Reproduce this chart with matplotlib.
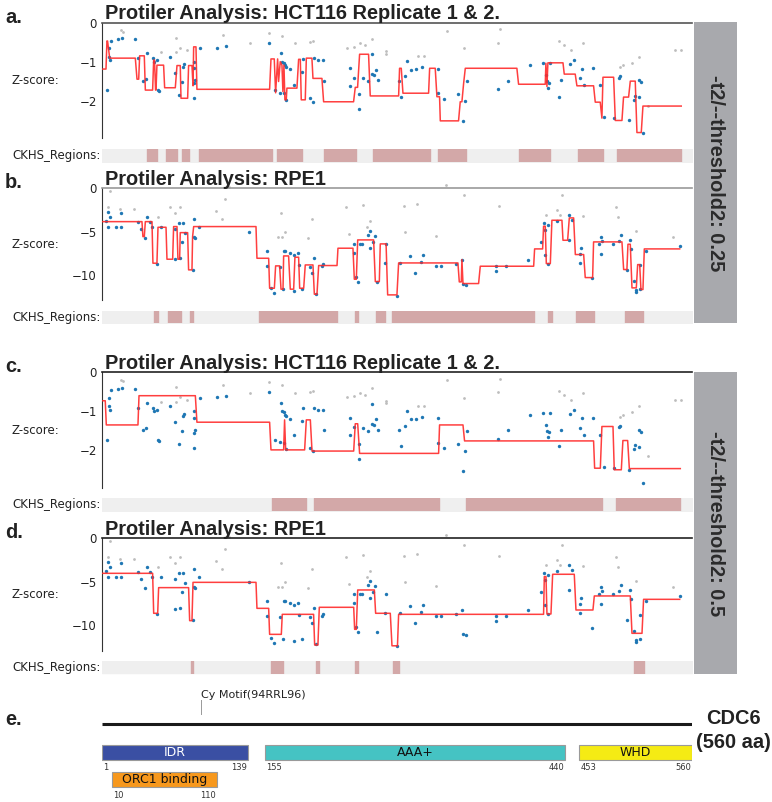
import matplotlib
matplotlib.use('Agg')
import matplotlib.pyplot as plt
from matplotlib.patches import Rectangle
import numpy as np

# ---- data (residue position, z-score) ----
hct_blue = [(5.4, -1.73), (7.0, -0.66), (7.6, -0.87), (7.9, -0.97), (9.5, -0.46), (15.5, -0.43),
            (19.6, -0.40), (32.3, -0.42), (34.8, -0.91), (39.2, -1.49), (42.4, -1.44), (43.3, -0.79),
            (49.0, -0.91), (50.3, -1.00), (52.8, -0.97), (53.8, -1.73), (54.7, -1.75), (65.5, -0.87),
            (69.9, -1.28), (74.0, -1.85), (76.5, -1.51), (77.5, -1.13), (78.7, -1.07), (87.6, -1.00),
            (88.2, -1.17), (89.2, -1.47), (88.2, -1.56), (87.6, -1.94), (93.3, -0.66), (109.7, -0.64),
            (118.5, -0.60), (159.0, -0.51), (170.7, -0.79), (171.3, -1.00), (172.9, -1.03), (174.5, -1.09),
            (175.4, -1.13), (179.2, -1.20), (164.7, -1.73), (169.1, -1.80), (173.5, -1.81), (175.4, -1.98),
            (182.4, -1.60), (190.3, -1.26), (191.2, -0.92), (198.2, -1.94), (200.4, -2.03), (202.0, -0.91),
            (205.1, -0.96), (209.9, -0.97), (211.5, -1.49), (236.1, -1.17), (235.5, -1.62), (239.9, -1.41),
            (244.0, -1.83), (244.0, -2.22), (248.1, -1.43), (252.8, -1.50), (256.6, -0.81), (256.6, -1.32),
            (260.7, -1.21), (258.9, -1.34), (262.3, -1.47), (281.9, -1.49), (284.4, -1.90), (287.6, -1.38),
            (289.8, -0.98), (293.6, -1.21), (298.3, -1.19), (304.3, -1.15), (319.2, -1.18), (319.5, -1.81),
            (324.5, -1.95), (338.1, -1.84), (342.9, -2.52), (345.1, -2.02), (346.7, -1.50), (376.0, -1.71),
            (385.2, -1.49), (406.1, -1.09), (418.7, -1.04), (421.2, -1.34), (422.2, -1.50), (423.1, -1.67),
            (424.1, -1.54), (425.0, -1.04), (433.9, -1.90), (436.1, -1.47), (444.6, -1.07), (447.8, -0.96),
            (454.1, -1.43), (455.7, -1.18), (457.9, -1.60), (466.1, -1.17), (472.4, -1.60), (476.2, -2.43),
            (485.7, -2.45), (490.4, -1.41), (492.0, -1.38), (499.9, -2.51), (504.7, -1.98), (505.9, -1.87),
            (509.4, -1.48), (511.6, -1.52), (509.4, -1.91), (513.5, -2.83)]
hct_gray = [(18.7, -0.19), (20.3, -0.23), (56.9, -0.76), (70.8, -0.38), (71.1, -0.76), (74.9, -0.64),
            (81.3, -0.70), (115.1, -0.32), (140.7, -0.53), (158.7, -0.26), (171.3, -0.33), (183.3, -0.53),
            (197.5, -0.50), (200.7, -0.47), (232.9, -0.64), (239.3, -0.62), (244.9, -0.53), (249.7, -0.57),
            (256.6, -0.41), (270.2, -0.73), (270.2, -0.80), (300.5, -0.86), (306.2, -0.86), (328.0, -0.21),
            (344.1, -0.66), (376.0, -0.51), (378.3, -0.17), (433.6, -0.47), (438.9, -0.57), (445.6, -0.70),
            (456.6, -0.53), (491.4, -1.15), (494.2, -1.09), (502.8, -1.03), (509.4, -0.87), (517.9, -2.14),
            (543.8, -0.70), (549.8, -0.70)]

rpe_blue = [(4.8, -3.73), (6.0, -2.69), (8.6, -3.27), (6.4, -4.5), (14.3, -4.5), (18.7, -4.5),
            (18.7, -2.88), (34.8, -3.85), (38.0, -4.73), (41.8, -5.77), (43.3, -3.35), (45.9, -3.85),
            (48.1, -4.5), (52.8, -8.73), (56.6, -4.5), (70.2, -4.73), (70.2, -8.15), (73.4, -4.04),
            (74.9, -8.08), (77.5, -4.04), (76.5, -6.23), (79.7, -5.19), (86.9, -9.42), (87.6, -3.58),
            (88.2, -5.58), (89.2, -5.77), (92.6, -4.5), (139.7, -5.08), (157.1, -7.19), (157.1, -8.92),
            (160.9, -11.54), (163.4, -12.04), (169.1, -9.12), (172.3, -11.65), (172.9, -7.19),
            (174.5, -7.19), (178.6, -7.42), (182.4, -7.69), (186.5, -7.5), (182.4, -11.81), (187.8, -8.85),
            (190.3, -11.65), (198.2, -9.04), (199.8, -9.81), (201.3, -8.08), (203.9, -12.23), (209.2, -8.96),
            (210.2, -8.73), (239.3, -7.5), (241.8, -10.19), (243.4, -10.77), (239.9, -6.42), (244.9, -6.42),
            (247.2, -6.42), (252.8, -5.38), (255.1, -4.92), (257.6, -6.15), (259.8, -5.5), (254.4, -6.92),
            (270.2, -6.42), (269.3, -8.58), (261.4, -10.77), (280.3, -12.42), (283.5, -8.62), (292.3, -7.81),
            (297.1, -9.73), (303.1, -8.5), (305.0, -7.65), (317.6, -9.0), (322.3, -9.0), (336.5, -8.77),
            (341.9, -8.31), (342.6, -11.0), (346.0, -11.19), (374.5, -9.0), (374.5, -9.54), (383.9, -9.0),
            (404.5, -8.31), (417.1, -6.19), (420.0, -3.96), (420.3, -4.77), (420.3, -7.73), (423.1, -4.19),
            (423.4, -8.69), (432.0, -3.81), (443.7, -3.12), (443.7, -6.0), (446.2, -3.69), (453.5, -7.62),
            (454.1, -8.62), (455.0, -6.85), (465.2, -10.31), (471.5, -6.46), (473.7, -5.62), (474.6, -6.12),
            (474.0, -7.54), (484.7, -6.38), (490.4, -6.12), (492.7, -5.42), (500.9, -6.0), (502.5, -7.04),
            (498.3, -9.38), (504.7, -10.73), (506.9, -11.77), (507.2, -12.0), (510.4, -8.88), (511.0, -11.65),
            (516.4, -7.27), (548.3, -6.69)]
rpe_gray = [(8.6, -0.27), (6.0, -2.19), (17.4, -2.35), (31.3, -2.35), (54.1, -3.27), (64.8, -2.12),
            (70.2, -2.81), (74.3, -2.12), (108.8, -2.58), (114.8, -3.58), (117.6, -1.27), (121.5, 0.1),
            (170.4, -2.88), (167.2, -5.58), (171.3, -5.58), (174.5, -5.0), (196.3, -5.77), (199.4, -3.58),
            (232.3, -2.12), (234.8, -5.27), (248.1, -1.96), (251.9, -4.42), (255.1, -3.73), (288.2, -5.04),
            (286.6, -2.08), (299.3, -1.85), (317.6, -5.54), (326.8, 0.35), (343.5, -0.81), (376.7, -2.08),
            (421.6, -3.04), (432.0, -2.54), (434.5, -3.04), (437.0, -0.81), (456.3, -3.19), (488.2, -2.15),
            (489.5, -3.31), (507.2, -4.92), (542.0, -5.62)]

# ---- segmentation (start residue, end residue, z) ----
seg_a = [(1.0, 4.5, -1.19), (5.4, 6.0, -0.47), (8.0, 32.3, -0.91), (33.9, 35.5, -1.45), (36.4, 40.8, -0.85),
         (41.8, 48.7, -1.73), (49.7, 50.5, -0.96), (51.5, 51.9, -1.73), (52.8, 59.1, -1.09),
         (60.1, 70.2, -1.67), (71.8, 74.9, -1.10), (75.6, 81.9, -1.94), (82.8, 86.0, -1.10),
         (87.0, 87.0, -1.62), (87.6, 89.8, -0.62), (90.7, 159.6, -1.71), (160.9, 164.0, -0.93),
         (165.3, 165.3, -1.80), (167.2, 167.2, -0.93), (168.1, 168.1, -1.51), (169.7, 169.7, -1.00),
         (171.3, 171.3, -1.09), (172.2, 172.2, -1.77), (173.2, 173.2, -1.09), (174.1, 175.4, -1.98),
         (176.0, 185.5, -1.68), (187.1, 188.7, -0.94), (189.6, 193.4, -1.98), (194.4, 199.7, -0.91),
         (200.7, 209.2, -1.43), (210.8, 239.2, -2.03), (240.8, 243.0, -1.66), (244.9, 253.4, -0.81),
         (255.0, 281.9, -1.88), (282.8, 284.4, -1.17), (286.0, 310.3, -1.81), (311.3, 316.6, -1.17),
         (318.2, 320.7, -1.90), (321.4, 338.7, -2.52), (340.3, 341.9, -2.03), (343.5, 343.5, -1.56),
         (345.1, 394.0, -1.17), (395.6, 420.9, -1.58), (421.5, 421.5, -1.04), (422.5, 422.5, -1.64),
         (423.4, 437.7, -1.03), (438.9, 449.3, -1.32), (450.9, 466.7, -1.62), (468.3, 473.0, -2.04),
         (474.6, 474.6, -2.45), (475.6, 485.7, -1.40), (487.3, 493.6, -2.51), (495.1, 499.9, -1.91),
         (501.5, 506.2, -1.50), (507.8, 511.9, -2.82), (513.5, 549.8, -2.14)]
seg_b = [(1.0, 38.6, -3.85), (39.5, 40.8, -5.58), (41.8, 48.1, -3.85), (49.0, 52.8, -8.65),
         (53.8, 61.4, -4.5), (62.3, 67.7, -8.19), (68.6, 71.8, -4.42), (72.7, 74.3, -8.19),
         (74.9, 81.9, -5.12), (82.8, 86.0, -9.42), (86.6, 86.6, -5.58), (87.6, 146.7, -4.42),
         (147.6, 158.7, -8.08), (159.6, 164.1, -11.54), (165.3, 169.1, -8.96), (170.4, 172.3, -11.65),
         (172.9, 177.6, -7.81), (179.2, 182.4, -11.65), (183.6, 187.1, -7.96), (188.1, 191.9, -11.54),
         (193.4, 200.7, -8.85), (202.0, 204.5, -12.23), (206.1, 223.5, -8.92), (224.4, 238.6, -6.92),
         (239.9, 241.8, -10.5), (243.1, 258.2, -5.96), (259.8, 263.6, -10.77), (264.5, 270.0, -6.42),
         (271.5, 280.3, -12.31), (281.9, 338.1, -8.62), (339.4, 341.3, -10.81), (341.9, 341.9, -8.23),
         (342.9, 357.7, -11.0), (359.3, 409.9, -9.0), (410.8, 418.4, -7.0), (419.3, 420.9, -4.38),
         (421.9, 425.7, -8.69), (427.2, 436.7, -3.69), (437.7, 442.1, -6.0), (443.7, 447.8, -3.42),
         (449.4, 457.3, -7.65), (458.8, 465.8, -10.31), (466.7, 493.6, -6.19), (495.2, 498.3, -9.38),
         (499.3, 501.5, -6.46), (503.1, 507.2, -11.5), (508.5, 510.4, -8.81), (511.6, 513.5, -11.69),
         (514.8, 548.3, -7.0)]
seg_c = [(1.0, 3.8, -0.73), (4.8, 34.8, -1.35), (35.8, 89.2, -0.60), (90.7, 159.6, -1.28),
         (160.9, 172.9, -1.99), (173.8, 173.8, -1.22), (174.8, 192.8, -1.99), (194.4, 198.2, -1.22),
         (199.8, 239.3, -2.02), (240.8, 243.1, -1.32), (244.9, 319.8, -2.08), (320.7, 342.9, -1.35),
         (344.4, 466.7, -1.76), (467.7, 473.1, -2.46), (474.6, 485.1, -1.39), (486.3, 493.0, -2.50),
         (494.5, 499.0, -1.75), (500.6, 548.9, -2.47)]
seg_d = [(1.0, 48.7, -4.04), (49.7, 53.5, -8.65), (54.4, 82.8, -5.69), (83.8, 86.0, -9.5),
         (87.0, 146.7, -5.08), (147.6, 158.7, -8.08), (159.6, 170.7, -11.08), (171.6, 201.3, -8.77),
         (202.3, 205.4, -12.31), (206.7, 239.3, -7.96), (240.2, 241.8, -10.5), (243.1, 258.9, -5.96),
         (260.1, 274.0, -8.65), (275.6, 280.8, -12.4), (281.9, 419.3, -8.77), (420.0, 421.6, -4.42),
         (422.5, 426.3, -8.73), (427.9, 448.4, -4.15), (450.0, 466.1, -8.27), (467.4, 501.5, -6.65),
         (503.1, 512.6, -10.96), (514.1, 548.3, -7.04)]

# ---- CKHS regions (start, end residue) ----
ckhs_a = [(43.3, 52.8), (61.4, 71.8), (76.5, 82.8), (92.3, 161.8), (166.6, 190.3), (211.5, 241.8),
          (257.6, 311.3), (319.2, 346.0), (396.3, 425.0), (451.9, 475.6), (488.9, 549.8)]
ckhs_b = [(50.3, 53.8), (63.3, 75.6), (83.8, 87.0), (149.2, 223.5), (240.8, 243.1), (260.7, 269.3),
          (275.6, 410.5), (423.4, 427.2), (450.0, 467.4), (496.1, 513.5)]
ckhs_c = [(161.8, 194.1), (201.3, 320.4), (345.7, 474.6), (487.6, 548.9)]
ckhs_d = [(85.0, 87.0), (161.2, 172.3), (203.9, 206.7), (240.8, 243.1), (276.2, 281.9), (504.7, 514.1)]

# ---- CDC6 domains ----
protein_len = 560
dom_names = ['IDR', 'AAA+', 'WHD']
dom_start = [1, 155, 453]
dom_end = [139, 440, 560]
orc1_name = 'ORC1 binding'
orc1_start, orc1_end = 10, 110
cy_pos = 95
cy_label = 'Cy Motif(94RRL96)'

titles = ['Protiler Analysis: HCT116 Replicate 1 & 2.', 'Protiler Analysis: RPE1',
          'Protiler Analysis: HCT116 Replicate 1 & 2.', 'Protiler Analysis: RPE1']
thresholds = ['-t2/--threshold2: 0.25', '-t2/--threshold2: 0.5']

# ---- layout helpers (pixels) ----
W, H = 772, 802
fig = plt.figure(figsize=(W / 100, H / 100), dpi=100)
X0, X1 = 102.3, 692
XLIM = (1, protein_len)
BOLD = 'Liberation Sans'


def rect(left, top, right, bottom):
    return [left / W, 1 - bottom / H, (right - left) / W, (bottom - top) / H]


def step_xy(segs):
    xs, ys = [], []
    for s, e, z in segs:
        xs += [s, e]
        ys += [z, z]
    return xs, ys


def panel(letter, title, top, bottom, zmin, ticks, blue, gray, segs, ckhs, bar_top, topcol):
    ax = fig.add_axes(rect(X0, top, X1, bottom))
    ax.set_xlim(XLIM)
    ax.set_ylim(zmin, 0)
    gx, gy = zip(*gray)
    bx, by = zip(*blue)
    ax.scatter(gx, gy, s=4, color='#bdbdbd', lw=0, clip_on=False, zorder=2)
    ax.scatter(bx, by, s=6, color='#1f77b4', lw=0, clip_on=False, zorder=3)
    sx, sy = step_xy(segs)
    ax.plot(sx, sy, color='#ff2a2a', lw=1.1, alpha=0.9, zorder=4)
    for side in ['right', 'bottom']:
        ax.spines[side].set_visible(False)
    ax.spines['left'].set_color('#333333')
    ax.spines['top'].set_color(topcol)
    ax.spines['top'].set_linewidth(1.2)
    ax.set_xticks([])
    ax.set_yticks(ticks)
    ax.tick_params(axis='y', length=0, pad=4, labelsize=8.5, colors='#222222')
    fig.text(5 / W, 1 - top / H, letter, fontsize=14.4, fontweight='bold', family=BOLD,
             va='baseline', color='#222222')
    fig.text(105 / W, 1 - (top - 3.5) / H, title, fontsize=14.4, fontweight='bold', family=BOLD,
             va='baseline', color='#222222')
    fig.text(12 / W, 1 - (top + bottom) / 2 / H, 'Z-score:', fontsize=8.5, va='center', color='#222222')

    bx_ax = fig.add_axes(rect(X0, bar_top, X1, bar_top + 12.5))
    bx_ax.set_xlim(XLIM)
    bx_ax.set_ylim(0, 1)
    bx_ax.axis('off')
    bx_ax.broken_barh([(XLIM[0], XLIM[1] - XLIM[0])], (0, 1), color='#efefef')
    bx_ax.broken_barh([(s, e - s) for s, e in ckhs], (0, 1), color='#d3a8a8')
    fig.text(12 / W, 1 - (bar_top + 6.5) / H, 'CKHS_Regions:', fontsize=8.5, va='center', color='#222222')


panel('a.', titles[0], 22.7, 138, -2.96, [0, -1, -2], hct_blue, hct_gray, seg_a, ckhs_a, 149, '#555555')
panel('b.', titles[1], 188.3, 300, -12.9, [0, -5, -10], rpe_blue, rpe_gray, seg_b, ckhs_b, 311, '#999999')
panel('c.', titles[2], 372.3, 487.7, -2.96, [0, -1, -2], hct_blue, hct_gray, seg_c, ckhs_c, 498.3, '#222222')
panel('d.', titles[3], 538.3, 651, -13.0, [0, -5, -10], rpe_blue, rpe_gray, seg_d, ckhs_d, 661, '#222222')

# threshold side boxes
for (top, bottom), label in zip([(22.3, 323.3), (372.3, 674)], thresholds):
    fig.patches.append(Rectangle((694 / W, 1 - bottom / H), 43.3 / W, (bottom - top) / H,
                                 transform=fig.transFigure, color='#a8a9ad', lw=0))
    fig.text(715.5 / W, 1 - (top + bottom) / 2 / H, label, rotation=270, fontsize=14.4,
             fontweight='bold', family=BOLD, ha='center', va='center', color='#2b2b2b')

# ---- panel e: domain map ----
axe = fig.add_axes(rect(X0, 680, X1, 802))
axe.set_xlim(XLIM)
axe.set_ylim(802, 680)
axe.axis('off')
axe.plot([XLIM[0], protein_len], [724, 724], color='#1a1a1a', lw=2.2, solid_capstyle='butt')
axe.plot([cy_pos, cy_pos], [700, 714], color='#999999', lw=0.7)
axe.text(cy_pos, 698, cy_label, fontsize=8, va='baseline', ha='left', color='#222222')

dom_colors = ['#3a4fa3', '#45c3c3', '#f5eb14']
dom_text = ['white', '#111111', '#111111']
for name, s, e, c, tc in zip(dom_names, dom_start, dom_end, dom_colors, dom_text):
    axe.add_patch(Rectangle((s, 745), e - s, 15, facecolor=c, edgecolor='#9a9a9a', lw=0.8))
    axe.text((s + e) / 2, 752.5, name, fontsize=9, ha='center', va='center', color=tc)
    axe.text(s + 1, 770, str(s), fontsize=6, ha='left', va='baseline', color='#333333')
    axe.text(e - 1, 770, str(e), fontsize=6, ha='right', va='baseline', color='#333333')
axe.add_patch(Rectangle((orc1_start, 772.3), orc1_end - orc1_start, 15, facecolor='#f7981d',
                        edgecolor='#9a9a9a', lw=0.8))
axe.text((orc1_start + orc1_end) / 2, 779.8, orc1_name, fontsize=9, ha='center', va='center', color='#111111')
axe.text(orc1_start + 1, 798, str(orc1_start), fontsize=6, ha='left', va='baseline', color='#333333')
axe.text(orc1_end - 1, 798, str(orc1_end), fontsize=6, ha='right', va='baseline', color='#333333')

fig.text(5 / W, 1 - 725 / H, 'e.', fontsize=14.4, fontweight='bold', family=BOLD, va='baseline', color='#222222')
fig.text(733 / W, 1 - 724.3 / H, 'CDC6', fontsize=14.4, fontweight='bold', family=BOLD,
         ha='center', va='baseline', color='#222222')
fig.text(733 / W, 1 - 748 / H, '(%d aa)' % protein_len, fontsize=14.4, fontweight='bold', family=BOLD,
         ha='center', va='baseline', color='#222222')

fig.savefig('out.png', dpi=100)
